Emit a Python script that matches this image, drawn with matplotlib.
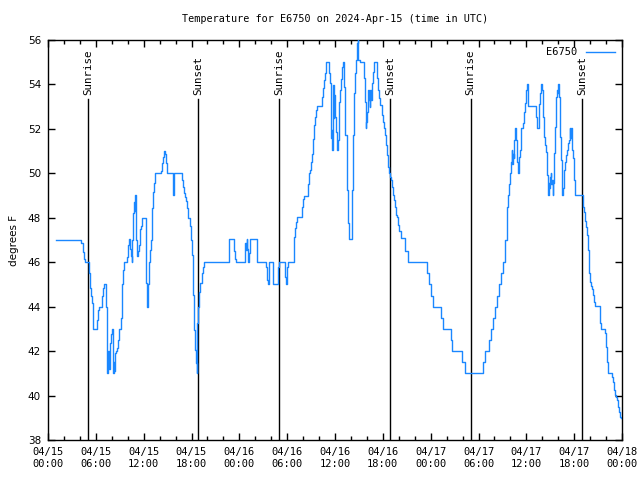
import matplotlib
matplotlib.use("Agg")
import matplotlib.pyplot as plt
import matplotlib.dates as mdates
import pandas as pd
import numpy as np

# ---- data (hours after 2024-04-15 00:00 UTC, temperature in F) ----
hours = [
    1.0, 4.18, 4.35, 4.48, 4.6, 5.1, 5.23, 5.36, 5.48, 5.6, 5.69, 6.19, 6.31, 6.44, 6.73, 6.86, 6.99,
    7.24, 7.36, 7.44, 7.53, 7.61, 7.74, 7.82, 7.9, 8.03, 8.11, 8.24, 8.32, 8.44, 8.57, 8.69, 8.82, 8.95,
    9.16, 9.24, 9.32, 9.41, 9.53, 9.95, 10.08, 10.16, 10.24, 10.33, 10.41, 10.49, 10.58, 10.66, 10.79,
    10.87, 10.91, 11.0, 11.12, 11.21, 11.29, 11.37, 11.5, 11.58, 11.66, 11.75, 12.25, 12.38, 12.46,
    12.54, 12.63, 12.71, 12.84, 12.92, 13.0, 13.09, 13.17, 13.3, 13.42, 14.17, 14.26, 14.38, 14.51,
    14.59, 14.72, 14.8, 14.88, 14.97, 15.64, 15.72, 15.76, 16.77, 16.89, 17.02, 17.14, 17.27, 17.39,
    17.52, 17.77, 17.9, 18.02, 18.15, 18.23, 18.31, 18.4, 18.48, 18.56, 18.65, 18.73, 18.86, 18.94,
    19.07, 19.32, 19.44, 19.57,
    22.66, 22.75, 23.29, 23.37, 23.5, 23.58, 24.75, 24.84, 24.92, 25.0, 25.05, 25.13, 25.21, 25.3,
    25.38, 26.18, 26.26, 27.3, 27.43, 27.51, 27.6, 27.68, 28.18, 28.27, 28.89, 29.02, 29.73, 29.81,
    29.94, 30.02, 30.15,
    30.82, 30.9, 30.98, 31.11, 31.23, 31.86, 31.9, 32.03, 32.15, 32.65, 32.78, 32.86, 32.99, 33.12,
    33.24, 33.37, 33.49, 33.62, 33.74, 34.33, 34.41, 34.54, 34.66, 34.79, 34.83, 35.25, 35.37, 35.46,
    35.54, 35.62, 35.67, 35.75, 35.83, 35.88, 35.96, 36.04, 36.13, 36.21, 36.29, 36.38, 36.46, 36.55,
    36.63, 36.71, 36.84, 36.92, 37.0, 37.09, 37.17, 37.3, 37.47, 37.59, 37.72, 37.8, 38.09, 38.17,
    38.3, 38.42, 38.55, 38.63, 38.72, 38.8, 38.85,
    38.89, 38.93, 39.09, 39.59, 39.68, 39.76, 39.85, 39.93, 40.01, 40.1, 40.18, 40.26, 40.35, 40.43,
    40.51, 40.6, 40.73, 40.85, 41.23, 41.31, 41.44, 41.56, 41.65, 41.86, 42.06, 42.19, 42.31, 42.44,
    42.56, 42.69, 42.81, 42.9, 43.02, 43.15, 43.27, 43.4, 43.52, 43.65, 43.81, 43.94, 44.06, 44.27,
    44.78, 45.16, 47.54, 47.79, 48.04, 48.29, 49.3, 49.55, 50.55, 50.68, 51.93, 52.31, 54.57, 54.82,
    55.32, 55.57, 55.82, 56.07, 56.32, 56.57, 56.82, 57.07, 57.32,
    57.53, 57.58, 57.66, 57.87, 57.95, 58.04, 58.16, 58.24, 58.33, 58.41, 58.5, 58.58, 58.66, 58.79,
    58.87, 58.96, 59.04, 59.12, 59.21, 59.29, 59.37, 59.62, 59.75, 59.83, 59.96, 60.08, 60.17, 60.25,
    61.17, 61.3, 61.55, 61.63, 61.71, 61.8, 61.88, 61.97, 62.05, 62.13, 62.22, 62.3, 62.43, 62.55,
    62.64, 62.72, 62.8, 62.89, 62.97, 63.05, 63.14, 63.22, 63.3, 63.39, 63.51, 63.6, 63.68, 63.76,
    63.85, 63.93, 64.02, 64.1, 64.18, 64.27, 64.35, 64.43, 64.52, 64.6, 64.69, 64.77, 64.89, 64.98,
    65.06, 65.19, 65.27, 65.35, 65.44, 65.52, 65.6, 65.69, 65.77, 65.86, 65.94, 66.02, 66.11, 66.15,
    67.07, 67.15, 67.24, 67.36, 67.45, 67.57, 67.7, 67.82, 67.91, 68.03, 68.16, 68.28, 68.41, 68.53,
    68.66, 69.2, 69.29, 69.41, 69.83, 69.96, 70.04, 70.16, 70.25, 70.79, 70.88, 71.0, 71.13, 71.25,
    71.38, 71.46, 71.59, 71.71, 71.9,
]
temps = [
    47.0, 46.85, 46.47, 46.13, 46.0, 45.5, 44.84, 44.5, 44.16, 43.5, 43.0, 43.4, 43.85, 44.0, 44.5, 44.84, 45.0,
    44.0, 42.0, 41.0, 42.0, 41.2, 42.0, 42.36, 42.77, 43.0, 41.0, 41.5, 41.1, 41.9, 42.0, 42.14, 42.5, 43.0,
    43.47, 44.33, 45.02, 45.65, 46.0, 46.22, 46.77, 47.03, 46.85, 46.6, 46.3, 46.0, 47.0, 48.23, 48.72,
    48.3, 49.02, 47.0, 46.47, 46.3, 46.5, 46.77, 47.0, 47.5, 47.65, 48.0, 45.05, 44.52, 44.0,
    45.0, 45.5, 46.0, 46.55, 47.0, 47.5, 48.42, 49.17, 49.55, 50.0, 50.1, 50.48, 50.75, 50.87,
    51.02, 50.87, 50.48, 50.22, 50.0, 49.55, 49.02, 50.0, 49.7, 49.4, 49.13, 48.95, 48.75, 48.42,
    48.0, 47.63, 47.0, 46.32, 45.57, 44.52, 42.95, 42.57, 42.05, 41.45, 41.0, 43.25, 44.0, 44.67,
    45.05, 45.5, 45.8, 46.0,
    46.52, 47.03, 46.85, 46.52, 46.16, 46.0, 46.85, 46.55, 47.03, 46.6, 46.4, 46.0, 46.4, 46.7,
    47.03, 46.55, 46.0, 45.8, 45.5, 45.2, 45.02, 46.0, 45.5, 45.02, 45.8, 46.0, 45.35, 45.02,
    45.35, 45.8, 46.0,
    46.52, 47.15, 47.52, 47.82, 48.02, 48.17, 48.5, 48.83, 49.0, 49.52, 50.0, 50.15, 50.52, 50.87,
    51.53, 52.16, 52.52, 52.85, 53.03, 53.18, 53.45, 53.82, 54.2, 54.53, 55.02, 54.53, 54.08, 52.55,
    51.57, 51.95, 51.05, 53.97, 52.47, 53.52, 52.7, 52.52, 51.88, 51.42, 51.05, 51.5, 52.55, 53.22,
    53.75, 54.23, 54.57, 54.8, 55.02, 54.5, 53.9, 51.72, 49.25, 47.75, 47.3, 47.03, 47.75, 49.25,
    51.72, 53.6, 54.5, 55.1, 55.55, 55.85, 56.0,
    55.6, 55.1, 55.0, 54.57, 54.27, 53.22, 52.03, 52.3, 52.77, 53.2, 53.75, 53.3, 53.0, 53.75,
    53.3, 54.05, 54.55, 55.0, 54.75, 54.27, 53.75, 53.37, 53.07, 52.62, 52.3, 52.03, 51.72, 51.27,
    50.82, 50.3, 50.0, 49.85, 49.7, 49.4, 49.02, 48.8, 48.5, 48.12, 48.05, 47.67, 47.4, 47.07,
    46.5, 46.0, 45.5, 45.0, 44.5, 44.0, 43.5, 43.0, 42.5, 42.0, 41.5, 41.0, 41.5, 42.0,
    42.5, 43.0, 43.5, 44.0, 44.5, 45.0, 45.5, 46.0, 47.0,
    47.9, 48.5, 49.02, 49.52, 50.0, 50.52, 51.05, 50.4, 50.85, 50.7, 51.5, 52.03, 51.5, 51.05,
    50.52, 50.0, 50.45, 50.75, 51.05, 51.65, 52.03, 52.25, 52.77, 53.15, 53.75, 54.02, 53.6, 53.03,
    52.55, 52.03, 52.4, 53.1, 53.6, 53.75, 54.0, 53.75, 53.45, 52.55, 51.65, 51.27, 50.98, 50.3,
    49.93, 49.02, 49.55, 49.32, 49.85, 50.0, 49.52, 49.7, 49.02, 49.55, 50.9, 52.1, 53.03, 53.45,
    53.75, 53.6, 54.0, 53.45, 52.55, 51.65, 50.6, 49.55, 49.02, 49.32, 49.85, 50.15, 50.52, 50.82,
    51.05, 51.12, 51.35, 51.5, 52.03, 51.57, 52.03, 51.5, 51.05, 50.67, 50.0, 49.7, 49.32, 49.02,
    48.72, 48.5, 48.27, 47.87, 47.6, 47.22, 46.55, 45.83, 45.5, 45.12, 44.93, 44.8, 44.52, 44.2,
    44.03, 43.78, 43.25, 43.0, 42.8, 42.5, 42.17, 41.52, 41.03, 40.85, 40.62, 40.25, 40.02, 39.95,
    39.8, 39.5, 39.28, 39.05, 39.0,
]

sun_events = ["Sunrise", "Sunset", "Sunrise", "Sunset", "Sunrise", "Sunset"]
sun_hours = [5.07, 18.85, 29.02, 42.9, 53.0, 67.03]

station = "E6750"
title = "Temperature for E6750 on 2024-Apr-15 (time in UTC)"
ylabel = "degrees F"

start = pd.Timestamp("2024-04-15 00:00")
end = pd.Timestamp("2024-04-18 00:00")
times = start + pd.to_timedelta(hours, unit="h")
sun_times = start + pd.to_timedelta(sun_hours, unit="h")

mono = "DejaVu Sans Mono"

fig = plt.figure(figsize=(6.4, 4.8), dpi=100)
ax = fig.add_axes([48 / 640, 40 / 480, 574 / 640, 400 / 480])

ax.plot(times, temps, color="#1a87ff", lw=1.0, drawstyle="steps-post", label=station, zorder=3)

for name, t in zip(sun_events, sun_times):
    ax.axvline(t, ymin=0, ymax=0.852, color="black", lw=1.0, zorder=2)
    ax.text(t, 0.862, name, transform=ax.get_xaxis_transform(), rotation=90,
            ha="center", va="bottom", fontsize=7.8, family=mono)

ax.set_xlim(start, end)
ax.set_ylim(38, 56)
ax.set_yticks(np.arange(38, 57, 2))

ax.xaxis.set_major_locator(mdates.HourLocator(byhour=[0, 6, 12, 18]))
ax.xaxis.set_major_formatter(mdates.DateFormatter("%m/%d\n%H:%M"))
ax.xaxis.set_minor_locator(mdates.HourLocator(byhour=range(0, 24, 2)))

ax.tick_params(axis="both", which="major", direction="in", length=5, width=1,
               top=True, right=True, labelsize=7.5, pad=5)
ax.tick_params(axis="both", which="minor", direction="in", length=3, width=1,
               top=True, right=True)
for lab in ax.get_xticklabels():
    lab.set_family(mono)
for lab in ax.get_yticklabels():
    lab.set_family("DejaVu Sans")
for sp in ax.spines.values():
    sp.set_linewidth(1.0)

ax.set_ylabel(ylabel, fontsize=7.5, family="DejaVu Sans", labelpad=6)
ax.set_title(title, fontsize=7.3, family=mono, pad=13)

leg = ax.legend(loc="upper right", frameon=False, markerfirst=False, handlelength=2.8,
                borderaxespad=0.3, prop={"family": mono, "size": 7.5})

fig.savefig("out.png", dpi=100)
